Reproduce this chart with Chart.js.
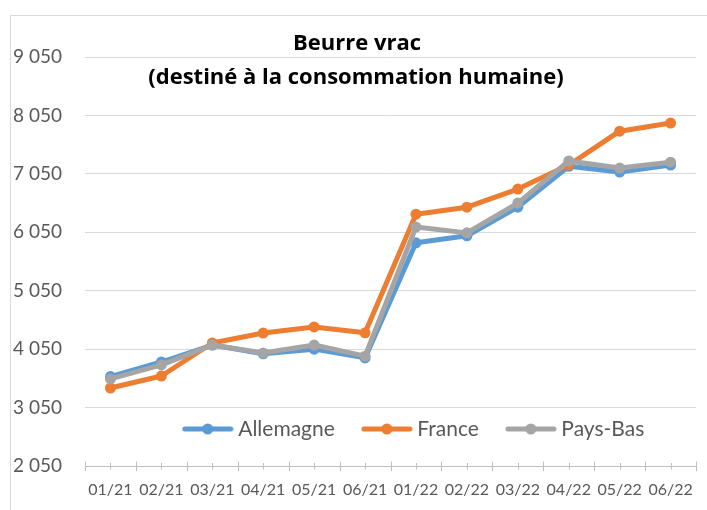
<!DOCTYPE html>
<html>
<head>
<meta charset="utf-8">
<script src="https://cdn.jsdelivr.net/npm/chart.js@4.4.0/dist/chart.umd.min.js"></script>
<style>
html,body{margin:0;padding:0;background:#fff;}
#wrap{position:relative;width:707px;height:510px;overflow:hidden;}
canvas{display:block;}
</style>
</head>
<body>
<div id="wrap"><canvas id="c" width="707" height="510"></canvas></div>
<script>
// ---- Data ----
const categories = ['01/21','02/21','03/21','04/21','05/21','06/21','01/22','02/22','03/22','04/22','05/22','06/22'];
const allemagne = [3580, 3830, 4120, 3970, 4050, 3900, 5870, 5990, 6480, 7180, 7080, 7200];
const france    = [3385, 3590, 4155, 4326, 4430, 4330, 6360, 6480, 6790, 7200, 7780, 7920];
const paysBas   = [3540, 3780, 4120, 3985, 4120, 3930, 6140, 6040, 6550, 7270, 7150, 7250];
const seriesNames = ['Allemagne', 'France', 'Pays-Bas'];
const yTickValues = [2050, 3050, 4050, 5050, 6050, 7050, 8050, 9050];
const titleLines = ['Beurre vrac', '(destiné à la consommation humaine)'];

const COLORS = ['#5B9BD5', '#ED7D31', '#A5A5A5'];
const FONT = 'Lato, "Open Sans", sans-serif';
const TITLE_FONT = '"Open Sans", Lato, sans-serif';

function fmt(v) { return String(v).replace(/\B(?=(\d{3})+(?!\d))/g, ' '); }

function makeSymbol(color) {
  const cv = document.createElement('canvas');
  cv.width = 52; cv.height = 14;
  const g = cv.getContext('2d');
  g.strokeStyle = color; g.lineWidth = 5; g.lineCap = 'round';
  g.beginPath(); g.moveTo(3, 7); g.lineTo(49, 7); g.stroke();
  g.fillStyle = color;
  g.beginPath(); g.arc(26, 7, 5.5, 0, Math.PI * 2); g.fill();
  return cv;
}

const decor = {
  id: 'decor',
  beforeDraw(chart) {
    const ctx = chart.ctx;
    ctx.save();
    ctx.strokeStyle = '#d9d9d9'; ctx.lineWidth = 1;
    ctx.strokeRect(10.5, 15.5, 760, 560);
    ctx.restore();
  },
  afterLayout(chart) {
    const lg = chart.legend;
    if (lg) {
      lg.top = 386.5; lg.bottom = 462; lg.height = lg.bottom - lg.top;
      lg.left = 66; lg.right = 766; lg.width = lg.right - lg.left;
    }
  },
  afterDraw(chart) {
    const ctx = chart.ctx;
    const xs = chart.scales.x;
    const yAxis = xs.top;
    ctx.save();
    ctx.strokeStyle = '#bfbfbf'; ctx.lineWidth = 1;
    const n = categories.length;
    for (let i = 0; i <= n; i++) {
      const px = Math.round(xs.getPixelForValue(i - 0.5)) + 0.5;
      ctx.beginPath(); ctx.moveTo(px, yAxis - 4.5); ctx.lineTo(px, yAxis + 5); ctx.stroke();
    }
    for (let i = 0; i < n; i++) {
      const px = Math.round(xs.getPixelForValue(i)) + 0.5;
      ctx.beginPath(); ctx.moveTo(px, yAxis - 3); ctx.lineTo(px, yAxis + 3.5); ctx.stroke();
    }
    ctx.fillStyle = '#000';
    ctx.font = 'bold 22px ' + TITLE_FONT;
    ctx.textAlign = 'center';
    ctx.textBaseline = 'alphabetic';
    ctx.fillText(titleLines[0], 357, 50);
    ctx.fillText(titleLines[1], 356, 84);
    ctx.restore();
  }
};

const seriesData = [allemagne, france, paysBas];
const drawOrder = [2, 1, 0];

new Chart(document.getElementById('c'), {
  type: 'line',
  data: {
    labels: categories,
    datasets: seriesData.map((d, i) => ({
      label: seriesNames[i],
      data: d,
      borderColor: COLORS[i],
      backgroundColor: COLORS[i],
      pointBackgroundColor: COLORS[i],
      pointBorderColor: COLORS[i],
      pointBorderWidth: 0,
      pointRadius: 5.5,
      borderWidth: 5,
      borderCapStyle: 'round',
      borderJoinStyle: 'round',
      tension: 0,
      fill: false,
      order: drawOrder[i]
    }))
  },
  options: {
    responsive: false,
    animation: false,
    devicePixelRatio: 1,
    events: [],
    layout: { padding: { top: 56, left: 10, right: 5, bottom: 0 } },
    plugins: {
      title: { display: false },
      tooltip: { enabled: false },
      legend: {
        display: true,
        position: 'top',
        align: 'center',
        maxHeight: 1,
        labels: {
          usePointStyle: true,
          pointStyleWidth: 40,
          boxHeight: 14,
          padding: 32,
          color: '#595959',
          font: { family: FONT, size: 21 },
          sort: (a, b) => a.datasetIndex - b.datasetIndex,
          generateLabels: (chart) => {
            const items = Chart.defaults.plugins.legend.labels.generateLabels(chart);
            items.forEach(it => { it.pointStyle = makeSymbol(COLORS[it.datasetIndex]); });
            return items;
          }
        }
      }
    },
    scales: {
      x: {
        type: 'category',
        offset: true,
        grid: { display: true, drawOnChartArea: false, drawTicks: false, offset: true },
        border: { display: true, color: '#bfbfbf', width: 1 },
        ticks: { color: '#595959', font: { family: FONT, size: 16 }, padding: 14, maxRotation: 0, autoSkip: false },
        afterFit: (s) => { s.height = 44; }
      },
      y: {
        min: 2050,
        max: 9050,
        grid: { color: '#d9d9d9', lineWidth: 1, drawTicks: false },
        border: { display: false },
        ticks: { color: '#595959', font: { family: FONT, size: 19 }, padding: 23, callback: (v) => fmt(v) },
        afterBuildTicks: (s) => { s.ticks = yTickValues.map(v => ({ value: v })); },
        afterFit: (s) => { s.width = 75; }
      }
    }
  },
  plugins: [decor]
});
</script>
</body>
</html>
